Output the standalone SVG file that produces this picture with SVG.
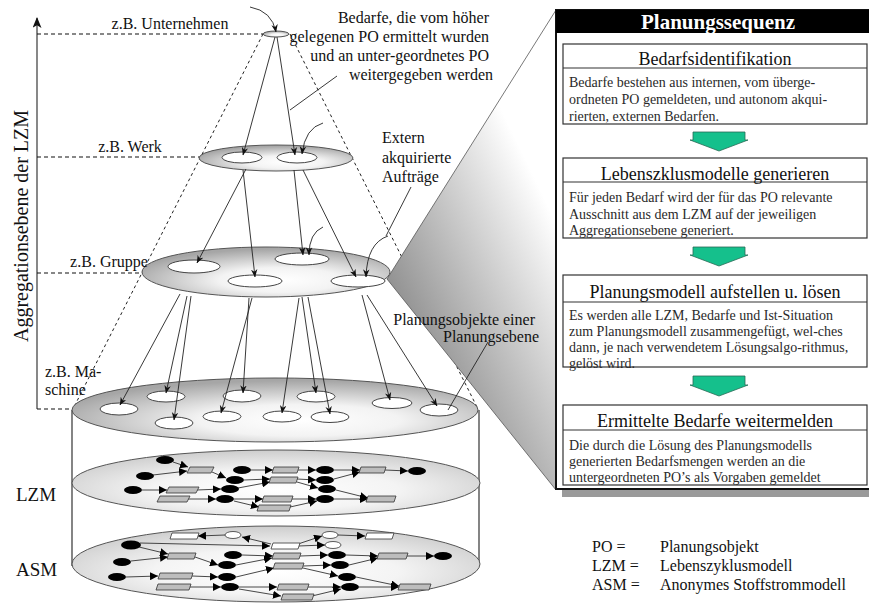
<svg xmlns="http://www.w3.org/2000/svg" width="869" height="605" viewBox="0 0 869 605">
  <style>
    .t { font-family: "Liberation Serif", "Times New Roman", serif; fill: #111; }
    .lbl { font-size: 16px; }
    .body { font-size: 14px; fill: #2a2a2a; }
    .ttl { font-size: 18px; text-anchor: middle; }
    .dash { stroke: #111; stroke-width: 1.2; stroke-dasharray: 4 3; fill: none; }
    .cone { stroke: #222; stroke-width: 1; stroke-dasharray: 3 3; fill: none; }
    .ln { stroke: #222; stroke-width: 0.9; fill: none; }
    .arr { stroke: #222; stroke-width: 0.9; fill: none; marker-end: url(#ah); }
    .po { fill: #fff; stroke: #444; stroke-width: 1; }
    .net { stroke: #333; stroke-width: 0.9; fill: none; marker-end: url(#nh); }
    .bn { fill: #000; }
    .gr { fill: #bdbdbd; stroke: #333; stroke-width: 0.8; }
    .wr { fill: #fff; stroke: #333; stroke-width: 0.8; }
    .wn { fill: #fff; stroke: #333; stroke-width: 0.8; }
    .box { fill: #fff; stroke: #333; stroke-width: 1.2; }
    .go { fill: #15c08c; stroke: #2a6b55; stroke-width: 0.8; }
  </style>
  <defs>
    <marker id="ah" viewBox="0 0 10 8" refX="9.5" refY="4" markerWidth="8" markerHeight="7" orient="auto" markerUnits="userSpaceOnUse">
      <path d="M0,0 L10,4 L0,8 L3,4 Z" fill="#111"/>
    </marker>
    <marker id="nh" viewBox="0 0 10 10" refX="10" refY="5" markerWidth="8" markerHeight="8" orient="auto" markerUnits="userSpaceOnUse">
      <path d="M0,0 L10,5 L0,10 Z" fill="#000"/>
    </marker>
    <marker id="axh" viewBox="0 0 12 10" refX="11" refY="5" markerWidth="11" markerHeight="9" orient="auto" markerUnits="userSpaceOnUse">
      <path d="M0,0 L12,5 L0,10 L3,5 Z" fill="#111"/>
    </marker>
    <radialGradient id="lvl" cx="0.56" cy="0.66" r="0.62">
      <stop offset="0" stop-color="#ffffff"/>
      <stop offset="0.4" stop-color="#f3f3f3"/>
      <stop offset="1" stop-color="#a6a6a6"/>
    </radialGradient>
    <radialGradient id="net" cx="0.5" cy="0.6" r="0.6">
      <stop offset="0" stop-color="#ffffff"/>
      <stop offset="0.5" stop-color="#f4f4f4"/>
      <stop offset="1" stop-color="#cdcdcd"/>
    </radialGradient>
    <linearGradient id="wedge" gradientUnits="userSpaceOnUse" x1="390" y1="300" x2="555" y2="220">
      <stop offset="0" stop-color="#8e8e8e"/>
      <stop offset="1" stop-color="#ffffff"/>
    </linearGradient>
  </defs>

  <rect width="869" height="605" fill="#fff"/>

  <!-- aggregation axis and level guides -->
  <g id="axis">
    <line x1="37" y1="409" x2="37" y2="18" stroke="#555" stroke-width="1.4" marker-end="url(#axh)"/>
    <text class="t" font-size="20" text-anchor="middle" transform="translate(28,226) rotate(-90)">Aggregationsebene der LZM</text>
    <line class="dash" x1="37" y1="34" x2="263" y2="34"/>
    <line class="dash" x1="37" y1="157" x2="200" y2="157"/>
    <line class="dash" x1="37" y1="273" x2="143" y2="273"/>
    <line class="dash" x1="37" y1="409" x2="73" y2="409"/>
  </g>

  <!-- outline of the planning cone -->
  <g id="cone">
    <line class="cone" x1="263" y1="34" x2="73" y2="409"/>
    <line class="cone" x1="290" y1="34" x2="478" y2="409"/>
  </g>

  <!-- cylinder with LZM and ASM layers -->
  <g id="cylinder">
    <rect x="72" y="410" width="408" height="155" fill="#fff"/>
    <line x1="72" y1="410" x2="72" y2="566" stroke="#333" stroke-width="1.2"/>
    <line x1="479" y1="410" x2="479" y2="566" stroke="#333" stroke-width="1.2"/>
    <ellipse id="asm-layer" cx="276" cy="564" rx="204" ry="38" fill="url(#net)" stroke="#555" stroke-width="1"/>
    <ellipse id="lzm-layer" cx="276" cy="483" rx="204" ry="33" fill="url(#net)" stroke="#555" stroke-width="1"/>
  </g>

  <!-- life cycle model network -->
  <g id="lzm-net">
    <g class="net-edges">
      <line class="net" x1="173" y1="462" x2="188" y2="467"/>
      <line class="net" x1="153" y1="475" x2="187" y2="471"/>
      <line class="net" x1="212" y1="472" x2="226" y2="478"/>
      <line class="net" x1="142" y1="490" x2="167" y2="490"/>
      <line class="net" x1="197" y1="490" x2="221" y2="489"/>
      <line class="net" x1="188" y1="499" x2="216" y2="499"/>
      <line class="net" x1="251" y1="470" x2="273" y2="470"/>
      <line class="net" x1="244" y1="480" x2="270" y2="479"/>
      <line class="net" x1="238" y1="488" x2="270" y2="482"/>
      <line class="net" x1="234" y1="499" x2="263" y2="499"/>
      <line class="net" x1="234" y1="501" x2="259" y2="507"/>
      <line class="net" x1="298" y1="470" x2="316" y2="470"/>
      <line class="net" x1="297" y1="479" x2="316" y2="480"/>
      <line class="net" x1="297" y1="482" x2="318" y2="488"/>
      <line class="net" x1="292" y1="499" x2="316" y2="499"/>
      <line class="net" x1="290" y1="507" x2="317" y2="501"/>
      <line class="net" x1="334" y1="470" x2="360" y2="470"/>
      <line class="net" x1="334" y1="479" x2="360" y2="472"/>
      <line class="net" x1="336" y1="490" x2="368" y2="498"/>
      <line class="net" x1="334" y1="499" x2="368" y2="499"/>
      <line class="net" x1="385" y1="470" x2="408" y2="471"/>
    </g>
    <ellipse class="bn" cx="165" cy="460" rx="9" ry="4"/>
    <ellipse class="bn" cx="145" cy="476" rx="9" ry="4"/>
    <ellipse class="bn" cx="133" cy="490" rx="9" ry="4"/>
    <ellipse class="bn" cx="242" cy="470" rx="9" ry="4"/>
    <ellipse class="bn" cx="235" cy="480" rx="9" ry="4"/>
    <ellipse class="bn" cx="230" cy="489" rx="9" ry="4"/>
    <ellipse class="bn" cx="225" cy="499" rx="9" ry="4"/>
    <ellipse class="bn" cx="325" cy="470" rx="9" ry="4"/>
    <ellipse class="bn" cx="325" cy="480" rx="9" ry="4"/>
    <ellipse class="bn" cx="327" cy="489" rx="9" ry="4"/>
    <ellipse class="bn" cx="325" cy="499" rx="9" ry="4"/>
    <ellipse class="bn" cx="417" cy="471" rx="9" ry="4"/>
    <polygon class="gr" points="190,467 214,467 211,473 187,473"/>
    <polygon class="gr" points="169,487 199,487 196,493 166,493"/>
    <polygon class="gr" points="160,496 190,496 187,502 157,502"/>
    <polygon class="gr" points="274,467 299,467 297,473 272,473"/>
    <polygon class="gr" points="271,477 298,477 296,483 269,483"/>
    <polygon class="gr" points="264,496 293,496 291,502 262,502"/>
    <polygon class="gr" points="259,505 291,505 289,511 257,511"/>
    <polygon class="gr" points="361,467 386,467 384,473 359,473"/>
    <polygon class="gr" points="368,496 396,496 394,502 366,502"/>
  </g>

  <!-- anonymous material flow network -->
  <g id="asm-net">
    <g class="net-edges">
      <line class="net" x1="225" y1="535" x2="198" y2="536"/>
      <line class="net" x1="271" y1="544" x2="242" y2="537"/>
      <line class="net" x1="140" y1="543" x2="270" y2="546"/>
      <line class="net" x1="298" y1="544" x2="322" y2="536"/>
      <line class="net" x1="298" y1="546" x2="325" y2="545"/>
      <line class="net" x1="338" y1="535" x2="365" y2="536"/>
      <line class="net" x1="139" y1="547" x2="168" y2="554"/>
      <line class="net" x1="131" y1="561" x2="168" y2="557"/>
      <line class="net" x1="126" y1="577" x2="158" y2="576"/>
      <line class="net" x1="195" y1="557" x2="218" y2="565"/>
      <line class="net" x1="192" y1="576" x2="218" y2="577"/>
      <line class="net" x1="190" y1="587" x2="221" y2="587"/>
      <line class="net" x1="242" y1="555" x2="273" y2="556"/>
      <line class="net" x1="236" y1="565" x2="272" y2="558"/>
      <line class="net" x1="236" y1="577" x2="274" y2="568"/>
      <line class="net" x1="239" y1="587" x2="277" y2="587"/>
      <line class="net" x1="239" y1="589" x2="281" y2="596"/>
      <line class="net" x1="300" y1="556" x2="328" y2="555"/>
      <line class="net" x1="303" y1="566" x2="331" y2="565"/>
      <line class="net" x1="303" y1="568" x2="338" y2="576"/>
      <line class="net" x1="308" y1="587" x2="341" y2="587"/>
      <line class="net" x1="312" y1="596" x2="341" y2="589"/>
      <line class="net" x1="346" y1="555" x2="378" y2="556"/>
      <line class="net" x1="349" y1="565" x2="378" y2="558"/>
      <line class="net" x1="356" y1="577" x2="399" y2="586"/>
      <line class="net" x1="359" y1="587" x2="399" y2="587"/>
      <line class="net" x1="407" y1="556" x2="434" y2="556"/>
    </g>
    <ellipse class="wn" cx="233" cy="535" rx="8" ry="3.5"/>
    <ellipse class="wn" cx="330" cy="535" rx="8" ry="3.5"/>
    <ellipse class="wn" cx="333" cy="545" rx="8" ry="3.5"/>
    <polygon class="wr" points="172,533 199,533 197,539 170,539"/>
    <polygon class="wr" points="273,543 300,543 298,549 271,549"/>
    <polygon class="wr" points="367,533 394,533 392,539 365,539"/>
    <ellipse class="bn" cx="131" cy="545" rx="10" ry="4.5"/>
    <ellipse class="bn" cx="122" cy="562" rx="9" ry="4"/>
    <ellipse class="bn" cx="117" cy="577" rx="9" ry="4"/>
    <ellipse class="bn" cx="233" cy="555" rx="9" ry="4"/>
    <ellipse class="bn" cx="227" cy="565" rx="9" ry="4"/>
    <ellipse class="bn" cx="227" cy="577" rx="9" ry="4"/>
    <ellipse class="bn" cx="230" cy="587" rx="9" ry="4"/>
    <ellipse class="bn" cx="337" cy="555" rx="9" ry="4"/>
    <ellipse class="bn" cx="340" cy="565" rx="9" ry="4"/>
    <ellipse class="bn" cx="347" cy="577" rx="9" ry="4"/>
    <ellipse class="bn" cx="350" cy="587" rx="9" ry="4"/>
    <ellipse class="bn" cx="443" cy="556" rx="9" ry="4"/>
    <polygon class="gr" points="169,553 196,553 194,559 167,559"/>
    <polygon class="gr" points="160,573 193,573 191,579 158,579"/>
    <polygon class="gr" points="158,584 191,584 189,590 156,590"/>
    <polygon class="gr" points="274,553 301,553 299,559 272,559"/>
    <polygon class="gr" points="275,563 304,563 302,569 273,569"/>
    <polygon class="gr" points="279,584 309,584 307,590 277,590"/>
    <polygon class="gr" points="283,594 314,594 312,600 281,600"/>
    <polygon class="gr" points="379,553 408,553 406,559 377,559"/>
    <polygon class="gr" points="400,584 431,584 429,590 398,590"/>
  </g>

  <!-- machine level (top of the cylinder) -->
  <g id="level-machine">
    <ellipse cx="275" cy="410" rx="203" ry="32" fill="url(#lvl)" stroke="#555" stroke-width="1"/>
    <ellipse class="po" cx="119" cy="409" rx="19" ry="6"/>
    <ellipse class="po" cx="166" cy="396.5" rx="19" ry="5.5"/>
    <ellipse class="po" cx="174" cy="423" rx="19" ry="6"/>
    <ellipse class="po" cx="222" cy="416.5" rx="19" ry="5.5"/>
    <ellipse class="po" cx="242" cy="396" rx="19" ry="6"/>
    <ellipse class="po" cx="282" cy="416.5" rx="19" ry="5.5"/>
    <ellipse class="po" cx="316" cy="396.5" rx="19" ry="5.5"/>
    <ellipse class="po" cx="330" cy="417" rx="19" ry="5.5"/>
    <ellipse class="po" cx="392" cy="403" rx="20" ry="5.5"/>
    <ellipse class="po" cx="439" cy="410" rx="19" ry="6"/>
  </g>

  <!-- zoom wedge towards the planning sequence -->
  <g id="wedge">
    <polygon points="387,279 556,10 556,490" fill="url(#wedge)" stroke="#555" stroke-width="0.8"/>
  </g>

  <!-- group level -->
  <g id="level-group">
    <ellipse cx="266" cy="272" rx="124" ry="25" fill="url(#lvl)" stroke="#555" stroke-width="1"/>
    <ellipse class="po" cx="194" cy="266.5" rx="26" ry="6.5"/>
    <ellipse class="po" cx="255" cy="281" rx="27" ry="6"/>
    <ellipse class="po" cx="302" cy="259" rx="27" ry="6"/>
    <ellipse class="po" cx="358" cy="281" rx="27" ry="6"/>
  </g>

  <!-- plant level -->
  <g id="level-plant">
    <ellipse cx="276" cy="158" rx="77" ry="13" fill="url(#lvl)" stroke="#555" stroke-width="1"/>
    <ellipse class="po" cx="242" cy="157.5" rx="20" ry="5.5"/>
    <ellipse class="po" cx="297" cy="157.5" rx="20" ry="5.5"/>
  </g>

  <!-- enterprise level -->
  <g id="level-enterprise">
    <ellipse cx="276" cy="34" rx="13" ry="3" fill="url(#lvl)" stroke="#555" stroke-width="1"/>
  </g>

  <!-- demand flows between planning objects -->
  <g id="connectors">
    <path class="arr" d="M250,7 Q272,11 276,32"/>
    <line class="arr" x1="275" y1="37" x2="243" y2="155"/>
    <line class="arr" x1="277" y1="37" x2="295" y2="155"/>
    <path class="arr" d="M323,123 Q305,128 302,154"/>
    <line class="ln" x1="337" y1="76" x2="290" y2="110"/>

    <line class="arr" x1="246" y1="169" x2="197" y2="263"/>
    <line class="arr" x1="243" y1="170" x2="255" y2="277"/>
    <line class="arr" x1="294" y1="170" x2="303" y2="255"/>
    <line class="arr" x1="303" y1="170" x2="356" y2="277"/>
    <path class="arr" d="M323,227 Q309,233 309,255"/>
    <line class="ln" x1="411" y1="187" x2="386" y2="236"/>
    <path class="arr" d="M388,236 Q367,243 366,277"/>

    <line class="arr" x1="180" y1="294" x2="120" y2="405"/>
    <line class="arr" x1="187" y1="296" x2="166" y2="393"/>
    <line class="arr" x1="191" y1="296" x2="174" y2="420"/>
    <line class="arr" x1="252" y1="298" x2="221" y2="413"/>
    <line class="arr" x1="249" y1="298" x2="243" y2="393"/>
    <line class="arr" x1="299" y1="298" x2="282" y2="413"/>
    <line class="arr" x1="302" y1="297" x2="316" y2="393"/>
    <line class="arr" x1="308" y1="297" x2="330" y2="414"/>
    <line class="arr" x1="362" y1="295" x2="390" y2="400"/>
    <line class="arr" x1="367" y1="295" x2="437" y2="406"/>
    <line class="ln" x1="488" y1="342" x2="448" y2="410"/>
  </g>

  <!-- labels -->
  <g id="labels" class="t lbl">
    <text x="170" y="29" text-anchor="middle">z.B. Unternehmen</text>
    <text x="130" y="152" text-anchor="middle">z.B. Werk</text>
    <text x="109" y="267" text-anchor="middle">z.B. Gruppe</text>
    <text x="45" y="377">z.B. Ma-</text>
    <text x="45" y="395">schine</text>
    <text text-anchor="end">
      <tspan x="493" y="23">Bedarfe, die vom höher</tspan>
      <tspan x="493" y="42">gelegenen PO ermittelt wurden</tspan>
      <tspan x="493" y="61">und an unter-geordnetes PO</tspan>
      <tspan x="493" y="80">weitergegeben werden</tspan>
    </text>
    <text>
      <tspan x="382" y="143">Extern</tspan>
      <tspan x="382" y="163">akquirierte</tspan>
      <tspan x="382" y="182">Aufträge</tspan>
    </text>
    <text text-anchor="end">
      <tspan x="539" y="325">Planungsobjekte einer</tspan>
      <tspan x="539" y="342">Planungsebene</tspan>
    </text>
    <text x="16" y="501" font-size="19">LZM</text>
    <text x="16" y="576" font-size="19">ASM</text>
  </g>

  <!-- legend -->
  <g id="legend" class="t lbl">
    <text x="592" y="552">PO =</text>
    <text x="660" y="552">Planungsobjekt</text>
    <text x="592" y="571">LZM =</text>
    <text x="660" y="571">Lebenszyklusmodell</text>
    <text x="592" y="590">ASM =</text>
    <text x="660" y="590">Anonymes Stoffstrommodell</text>
  </g>

  <!-- planning sequence panel -->
  <g id="panel">
    <rect x="562" y="17" width="320" height="480" fill="#9a9a9a"/>
    <rect x="556" y="10" width="320" height="479" fill="#fff" stroke="#111" stroke-width="2"/>
    <rect x="556" y="10" width="320" height="23" fill="#000"/>
    <text class="t" x="718" y="29" font-size="21" font-weight="bold" text-anchor="middle" style="fill:#fff">Planungssequenz</text>
  </g>

  <g id="step1">
    <rect class="box" x="563" y="44" width="304" height="80"/>
    <line x1="563" y1="68" x2="867" y2="68" stroke="#333" stroke-width="1.2"/>
    <text class="t ttl" x="715" y="65">Bedarfsidentifikation</text>
    <text class="t body">
      <tspan x="569" y="87">Bedarfe bestehen aus internen, vom überge-</tspan>
      <tspan x="569" y="104">ordneten PO gemeldeten, und autonom akqui-</tspan>
      <tspan x="569" y="121">rierten, externen Bedarfen.</tspan>
    </text>
  </g>
  <path id="flow1" class="go" d="M693,132 H745 V140 H748 L719,151 L690,140 H693 Z"/>

  <g id="step2">
    <rect class="box" x="563" y="158" width="304" height="80"/>
    <line x1="563" y1="182" x2="867" y2="182" stroke="#333" stroke-width="1.2"/>
    <text class="t ttl" x="715" y="180">Lebenszklusmodelle generieren</text>
    <text class="t body">
      <tspan x="569" y="202">Für jeden Bedarf wird der für das PO relevante</tspan>
      <tspan x="569" y="219">Ausschnitt aus dem LZM auf der jeweiligen</tspan>
      <tspan x="569" y="235">Aggregationsebene generiert.</tspan>
    </text>
  </g>
  <path id="flow2" class="go" d="M693,247 H745 V255 H748 L719,266 L690,255 H693 Z"/>

  <g id="step3">
    <rect class="box" x="563" y="275" width="304" height="92"/>
    <line x1="563" y1="302" x2="867" y2="302" stroke="#333" stroke-width="1.2"/>
    <text class="t ttl" x="715" y="298">Planungsmodell aufstellen u. lösen</text>
    <text class="t body">
      <tspan x="569" y="320">Es werden alle LZM, Bedarfe und Ist-Situation</tspan>
      <tspan x="569" y="336">zum Planungsmodell zusammengefügt, wel-ches</tspan>
      <tspan x="569" y="352">dann, je nach verwendetem Lösungsalgo-rithmus,</tspan>
      <tspan x="569" y="368">gelöst wird.</tspan>
    </text>
  </g>
  <path id="flow3" class="go" d="M693,376 H745 V385 H748 L719,396 L690,385 H693 Z"/>

  <g id="step4">
    <rect class="box" x="563" y="405" width="304" height="80"/>
    <line x1="563" y1="430" x2="867" y2="430" stroke="#333" stroke-width="1.2"/>
    <text class="t ttl" x="715" y="427">Ermittelte Bedarfe weitermelden</text>
    <text class="t body">
      <tspan x="569" y="450">Die durch die Lösung des Planungsmodells</tspan>
      <tspan x="569" y="466">generierten Bedarfsmengen werden an die</tspan>
      <tspan x="569" y="482">untergeordneten PO’s als Vorgaben gemeldet</tspan>
    </text>
  </g>
</svg>
